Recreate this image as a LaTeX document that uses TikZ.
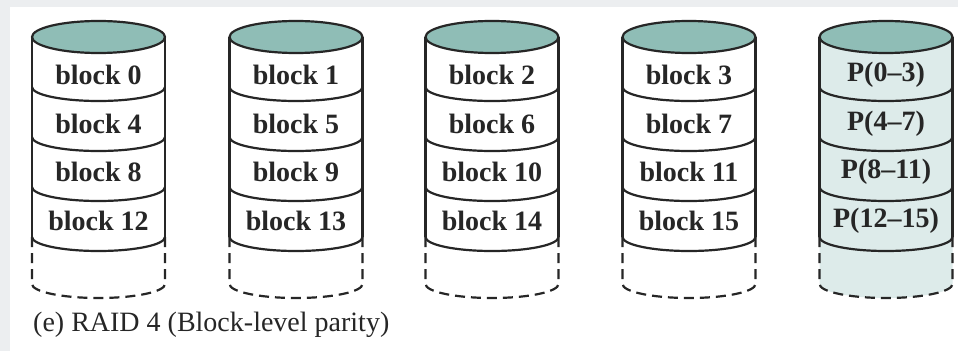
\documentclass[tikz,border=0pt]{standalone}
\usepackage{fontspec}
\setmainfont{Liberation Serif}
\definecolor{pagegray}{HTML}{ECEEF0}
\definecolor{captop}{HTML}{8FBDB6}
\definecolor{parityfill}{HTML}{DDEBEA}
\definecolor{ink}{HTML}{262626}
\tikzset{
  disk/.style={draw=ink, line width=2.2pt},
  spare/.style={draw=ink, line width=2.2pt, dash pattern=on 10pt off 6pt},
  blocklabel/.style={font=\fontsize{28}{30}\selectfont\bfseries, text=ink, inner sep=0pt},
  captiontext/.style={font=\fontsize{28}{30}\selectfont, text=ink, inner sep=0pt, anchor=west}
}
\begin{document}
\begin{tikzpicture}[x=1pt,y=1pt]
  % page and white panel
  \fill[pagegray] (0,0) rectangle (958,351);
  \fill[white] (10,0) rectangle (958,344);
  \useasboundingbox (0,0) rectangle (958,351);
  \def\rx{66.5}
  % one cylinder per disk: column index, centre x, body fill
  \foreach \col/\cx/\body in {0/98.5/white, 1/296/white, 2/492/white, 3/689/white, 4/886/parityfill}{
    % body of the disk, including the spare (dashed) part
    \fill[\body] (\cx-\rx,314) -- (\cx-\rx,67) arc[start angle=180, end angle=360, x radius=\rx, y radius=14]
      -- (\cx+\rx,314) -- cycle;
    % solid sides
    \draw[disk] (\cx-\rx,314) -- (\cx-\rx,114);
    \draw[disk] (\cx+\rx,314) -- (\cx+\rx,114);
    % block separators
    \foreach \y in {264,214,164,114}{
      \draw[disk] (\cx-\rx,\y) arc[start angle=180, end angle=360, x radius=\rx, y radius=14];
    }
    % spare area below the last block
    \draw[spare] (\cx-\rx,114) -- (\cx-\rx,67) arc[start angle=180, end angle=360, x radius=\rx, y radius=14] -- (\cx+\rx,114);
    % top of the disk
    \draw[disk, fill=captop] (\cx,314) ellipse[x radius=\rx, y radius=16];
  }
  % block labels
  \foreach \col/\cx in {0/98.5, 1/296, 2/492, 3/689}{
    \foreach \row/\y in {0/276, 1/227, 2/179, 3/130}{
      \pgfmathtruncatemacro{\n}{4*\row+\col}
      \node[blocklabel] (b\n) at (\cx,\y) {block \n};
    }
  }
  % parity labels
  \node[blocklabel] (p0) at (886,276) {P(0–3)};
  \node[blocklabel] (p1) at (886,227) {P(4–7)};
  \node[blocklabel] (p2) at (886,179) {P(8–11)};
  \node[blocklabel] (p3) at (886,130) {P(12–15)};
  % caption
  \node[captiontext] (caption) at (33,26) {(e) RAID 4 (Block-level parity)};
\end{tikzpicture}
\end{document}
